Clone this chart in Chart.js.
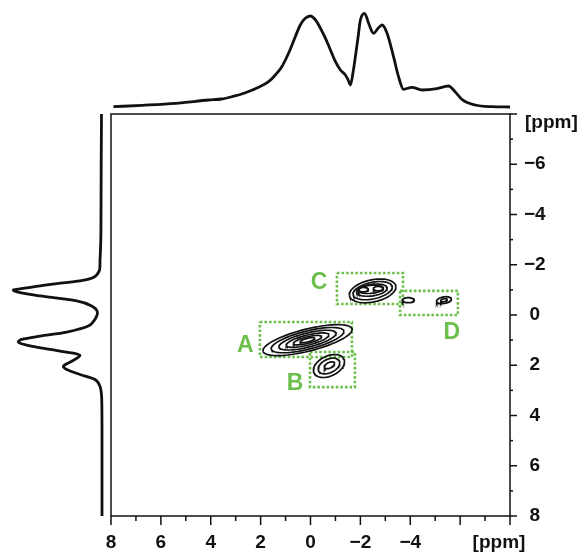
<!DOCTYPE html>
<html>
<head>
<meta charset="utf-8">
<title>2D correlation spectrum</title>
<script src="https://cdn.jsdelivr.net/npm/chart.js@4.4.1/dist/chart.umd.min.js"></script>
<style>
  html, body { margin: 0; padding: 0; background: #fff; }
  #wrap { position: relative; width: 587px; height: 556px; }
  #wrap canvas { position: absolute; left: 0; top: 0; }
</style>
</head>
<body>
<div id="wrap">
  <canvas id="main" width="587" height="556" style="width:587px;height:556px"></canvas>
  <canvas id="top" width="587" height="113" style="width:587px;height:113px"></canvas>
  <canvas id="left" width="111" height="556" style="width:111px;height:556px"></canvas>
</div>
<script>
// projection along the horizontal dimension (ppm, intensity)
const topShift = [7.9, 6.75, 5.41, 4.08, 3.56, 3.15, 2.61, 2.08, 1.68, 1.41, 1.15, 0.88, 0.61, 0.41, 0.21, 0.0,
  -0.2, -0.4, -0.6, -0.8, -1.0, -1.2, -1.4, -1.51, -1.6, -1.71, -1.8, -1.91, -2.0, -2.17, -2.33, -2.53,
  -2.71, -2.87, -3.07, -3.33, -3.53, -3.73, -4.07, -4.47, -5.07, -5.53, -5.8, -6.07, -6.6, -7.27, -8.0];
const topIntensity = [0.3, 1.7, 3.7, 7, 8, 10.3, 14.3, 19.7, 25.3, 32, 40.3, 53.7, 70.3, 82, 88.7, 91,
  87, 78.7, 68.7, 57, 45.3, 37, 32, 27, 22, 35.3, 50.3, 70.3, 87, 93.7, 83.7, 73.7,
  78.7, 82, 73.7, 50.3, 30.3, 17.7, 19.7, 17, 18.3, 21, 15.3, 7.7, 2, 0.3, 0];

// projection along the vertical dimension
const leftShift = [-8.0, -6.0, -4.0, -3.0, -2.16, -1.76, -1.49, -1.36, -1.25, -1.12, -1.03, -0.99, -0.89, -0.76,
  -0.56, -0.36, -0.13, 0.17, 0.44, 0.68, 0.84, 0.97, 1.08, 1.2, 1.37, 1.51, 1.61, 1.84, 2.04, 2.17,
  2.37, 2.57, 2.84, 3.31, 4.5, 6.0, 8.0];
const leftIntensity = [0.5, 0.8, 1, 1.2, 2, 2.7, 8.7, 22, 45.3, 68.7, 83.7, 88.7, 82, 62,
  25.3, 10.3, 4.7, 7, 13.7, 35.3, 62, 80.3, 83.7, 75.3, 52, 30.3, 22, 30.3, 38.7, 35.3,
  22, 7, 2, 0.3, 0, 0, 0];

// contour rings: centre (ppm), half-axes (ppm), tilt (deg)
const ringX = [0.12, 0.12, 0.12, 0.12, 0.12, 0.12, -0.74, -0.74, -0.76, -2.49, -2.49, -2.46, -2.42, -2.12, -2.72, -3.92, -5.35, -5.35];
const ringY = [1.0, 1.0, 1.0, 1.0, 1.0, 1.0, 2.03, 2.03, 2.0, -0.96, -0.97, -0.99, -1.02, -1.01, -1.05, -0.59, -0.59, -0.59];
const ringA = [1.84, 1.5, 1.18, 0.88, 0.58, 0.3, 0.66, 0.46, 0.22, 0.95, 0.8, 0.62, 0.5, 0.2, 0.2, 0.24, 0.3, 0.13];
const ringB = [0.44, 0.36, 0.28, 0.2, 0.13, 0.07, 0.4, 0.27, 0.11, 0.44, 0.33, 0.23, 0.16, 0.09, 0.09, 0.1, 0.13, 0.06];
const ringTilt = [14, 14, 14, 14, 14, 14, 25, 25, 25, 12, 12, 8, 5, 0, 0, 0, 10, 10];

// marked regions
const regionNames = ['A', 'B', 'C', 'D'];
const regionX1 = [2.03, 0.02, -1.06, -3.59];
const regionX2 = [-1.66, -1.78, -3.71, -5.91];
const regionY1 = [0.28, 1.47, -1.67, -0.96];
const regionY2 = [1.67, 2.87, -0.44, 0.0];
const regionLabelX = [2.61, 0.62, -0.34, -5.67];
const regionLabelY = [1.19, 2.71, -1.31, 0.68];

const ppmTicks = [8, 6, 4, 2, 0, -2, -4, -6, -8];

const GREEN = '#6cbf4c';
const INK = '#111';
const FONT = '"Liberation Sans", Arial, sans-serif';

const fmt = v => (v < 0 ? '\u2212' + Math.abs(v) : String(v));

function ringPoints(i) {
  const n = 60;
  const t0 = ringTilt[i] * Math.PI / 180;
  const pts = [];
  for (let k = 0; k <= n; k++) {
    const t = 2 * Math.PI * k / n;
    const ex = ringA[i] * Math.cos(t);
    const ey = ringB[i] * Math.sin(t);
    pts.push({
      x: ringX[i] + ex * Math.cos(t0) - ey * Math.sin(t0),
      y: ringY[i] + ex * Math.sin(t0) + ey * Math.cos(t0),
    });
  }
  return pts;
}

const datasets = [];
ringX.forEach((_, i) => {
  datasets.push({
    data: ringPoints(i),
    showLine: true,
    borderColor: INK,
    borderWidth: 1.7,
    pointRadius: 0,
    tension: 0,
  });
});
regionNames.forEach((_, i) => {
  datasets.push({
    data: [
      { x: regionX1[i], y: regionY1[i] },
      { x: regionX2[i], y: regionY1[i] },
      { x: regionX2[i], y: regionY2[i] },
      { x: regionX1[i], y: regionY2[i] },
      { x: regionX1[i], y: regionY1[i] },
    ],
    showLine: true,
    borderColor: GREEN,
    borderWidth: 2.6,
    borderDash: [2.6, 2],
    borderCapStyle: 'butt',
    pointRadius: 0,
  });
});

// frame, tick marks, unit labels and region letters
const framePlugin = {
  id: 'frame',
  afterDraw(chart) {
    const { ctx, chartArea: a, scales: { x, y } } = chart;
    ctx.save();
    ctx.strokeStyle = INK;
    ctx.lineWidth = 1.5;
    ctx.strokeRect(a.left, a.top, a.right - a.left, a.bottom - a.top);
    for (let v = -8; v <= 8; v++) {
      const major = v % 2 === 0;
      const px = x.getPixelForValue(v);
      ctx.beginPath();
      ctx.moveTo(px, a.bottom);
      ctx.lineTo(px, a.bottom + (major ? 9 : 5));
      ctx.stroke();
      const py = y.getPixelForValue(v);
      ctx.beginPath();
      ctx.moveTo(a.right, py);
      ctx.lineTo(a.right + (major ? 7 : 3), py);
      ctx.stroke();
    }
    ctx.fillStyle = INK;
    ctx.font = 'bold 19px ' + FONT;
    ctx.textBaseline = 'alphabetic';
    ctx.textAlign = 'center';
    ctx.fillText('[ppm]', 499, 548);
    ctx.textAlign = 'left';
    ctx.fillText('[ppm]', 525, 128);

    ctx.fillStyle = GREEN;
    ctx.font = 'bold 23px ' + FONT;
    ctx.textAlign = 'center';
    ctx.textBaseline = 'middle';
    regionNames.forEach((name, i) => {
      ctx.fillText(name, x.getPixelForValue(regionLabelX[i]), y.getPixelForValue(regionLabelY[i]) + 1);
    });
    ctx.restore();
  },
};

new Chart(document.getElementById('main'), {
  type: 'scatter',
  data: { datasets },
  options: {
    responsive: false,
    animation: false,
    layout: { padding: { left: 111, top: 114, right: 0, bottom: 0 } },
    plugins: { legend: { display: false }, tooltip: { enabled: false } },
    scales: {
      x: {
        type: 'linear',
        min: -8,
        max: 8,
        reverse: true,
        position: 'bottom',
        grid: { display: false, drawTicks: false },
        border: { display: false },
        afterBuildTicks: s => { s.ticks = ppmTicks.map(v => ({ value: v })); },
        afterFit: s => { s.height = 40; },
        ticks: {
          color: INK,
          padding: 15,
          maxRotation: 0,
          autoSkip: false,
          font: { family: FONT, size: 19, weight: 'bold' },
          callback: v => (v === -6 || v === -8 ? '' : fmt(v)),
        },
      },
      y: {
        type: 'linear',
        min: -8,
        max: 8,
        reverse: true,
        position: 'right',
        grid: { display: false, drawTicks: false },
        border: { display: false },
        afterBuildTicks: s => { s.ticks = ppmTicks.map(v => ({ value: v })); },
        afterFit: s => { s.width = 77; },
        ticks: {
          color: INK,
          padding: 14,
          crossAlign: 'center',
          autoSkip: false,
          font: { family: FONT, size: 19, weight: 'bold' },
          callback: v => (v === -8 ? '' : fmt(v)),
        },
      },
    },
  },
  plugins: [framePlugin],
});

// horizontal projection above the map
new Chart(document.getElementById('top'), {
  type: 'scatter',
  data: {
    datasets: [{
      data: topShift.map((s, i) => ({ x: s, y: topIntensity[i] })),
      showLine: true,
      borderColor: INK,
      borderWidth: 2.8,
      pointRadius: 0,
      cubicInterpolationMode: 'monotone',
      clip: false,
    }],
  },
  options: {
    responsive: false,
    animation: false,
    layout: { padding: { left: 111, right: 77, top: 13, bottom: 6 } },
    plugins: { legend: { display: false }, tooltip: { enabled: false } },
    scales: {
      x: { type: 'linear', min: -8, max: 8, reverse: true, display: false },
      y: { type: 'linear', min: 0, max: 94, display: false },
    },
  },
});

// vertical projection left of the map
new Chart(document.getElementById('left'), {
  type: 'scatter',
  data: {
    datasets: [{
      data: leftShift.map((s, i) => ({ x: leftIntensity[i], y: s })),
      showLine: true,
      borderColor: INK,
      borderWidth: 2.8,
      pointRadius: 0,
      tension: 0.3,
      clip: false,
    }],
  },
  options: {
    responsive: false,
    animation: false,
    layout: { padding: { left: 12, right: 9, top: 114, bottom: 40 } },
    plugins: { legend: { display: false }, tooltip: { enabled: false } },
    scales: {
      x: { type: 'linear', min: 0, max: 90, reverse: true, display: false },
      y: { type: 'linear', min: -8, max: 8, reverse: true, display: false },
    },
  },
});
</script>
</body>
</html>
